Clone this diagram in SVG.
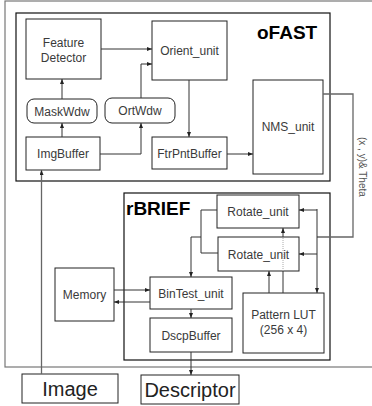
<svg xmlns="http://www.w3.org/2000/svg" width="372" height="406" viewBox="0 0 372 406">
<style>
.box{fill:#fff;stroke:#222;stroke-width:1}
.cont{fill:none;stroke:#111;stroke-width:1.2}
.t{font-family:"Liberation Sans",Arial,sans-serif;font-size:12px;fill:#3a3a3a;text-anchor:middle}
.big{font-family:"Liberation Sans",Arial,sans-serif;font-size:20px;fill:#222;text-anchor:middle}
.lbl{font-family:"Liberation Sans",Arial,sans-serif;font-size:19px;font-weight:bold;fill:#000}
.c{fill:none;stroke:#333;stroke-width:1}
.g{fill:none;stroke:#666;stroke-width:1.3}
</style>
<defs>
<marker id="a" markerWidth="5" markerHeight="4" refX="5" refY="2" orient="auto" markerUnits="userSpaceOnUse">
<path d="M0,0 L5,2 L0,4 z" fill="#222"/>
</marker>
</defs>
<rect x="0" y="0" width="372" height="406" fill="#fff"/>
<g id="containers">
<rect x="5" y="1" width="380" height="366" fill="none" stroke="#777" stroke-width="1.2"/>
<rect id="oFAST" x="16" y="13" width="314" height="168" class="cont"/>
<text x="257" y="39" class="lbl">oFAST</text>
<rect id="rBRIEF" x="124" y="193" width="206" height="167" class="cont"/>
<text x="126" y="215" class="lbl">rBRIEF</text>
</g>
<g id="n_fd"><rect x="26" y="19" width="75" height="60" class="box"/><text x="63.5" y="47" class="t">Feature</text><text x="63.5" y="62" class="t">Detector</text></g>
<g id="n_orient"><rect x="152" y="21" width="75" height="59" class="box"/><text x="189.5" y="55" class="t">Orient_unit</text></g>
<g id="n_mask"><rect x="27" y="99" width="70" height="24" rx="7" class="box"/><text x="62" y="115.5" class="t">MaskWdw</text></g>
<g id="n_ort"><rect x="105" y="98" width="70" height="25" rx="7" class="box"/><text x="140" y="115" class="t">OrtWdw</text></g>
<g id="n_img"><rect x="26" y="137" width="74" height="33" class="box"/><text x="63" y="158" class="t">ImgBuffer</text></g>
<g id="n_ftr"><rect x="152" y="137" width="75" height="32" class="box"/><text x="189.5" y="157.5" class="t">FtrPntBuffer</text></g>
<g id="n_nms"><rect x="253" y="80" width="70" height="94" class="box"/><text x="288" y="131" class="t">NMS_unit</text></g>
<g id="n_rot1"><rect x="217" y="195" width="82" height="33" class="box"/><text x="258" y="216" class="t">Rotate_unit</text></g>
<g id="n_rot2"><rect x="218" y="237" width="81" height="34" class="box"/><text x="258.5" y="258.5" class="t">Rotate_unit</text></g>
<g id="n_lut"><rect x="243" y="293" width="81" height="60" class="box"/><text x="283.5" y="319" class="t">Pattern LUT</text><text x="283.5" y="334" class="t">(256 x 4)</text></g>
<g id="n_bin"><rect x="150" y="277" width="82" height="32" class="box"/><text x="191" y="297.5" class="t">BinTest_unit</text></g>
<g id="n_dscp"><rect x="150" y="318" width="82" height="34" class="box"/><text x="191" y="339.5" class="t">DscpBuffer</text></g>
<g id="n_mem"><rect x="55" y="268" width="59" height="53" class="box"/><text x="84.5" y="298.5" class="t">Memory</text></g>
<g id="n_image"><rect x="22" y="374" width="96" height="29" class="box"/><text x="70" y="396" class="big">Image</text></g>
<g id="n_desc"><rect x="141" y="375" width="98" height="29" class="box"/><text x="190" y="397" class="big">Descriptor</text></g>
<g id="connectors">
<path d="M101,49 H152" class="c" marker-end="url(#a)"/>
<path d="M141,98 V64 H152" class="c" marker-end="url(#a)"/>
<path d="M62,99 V79" class="c" marker-end="url(#a)"/>
<path d="M62,137 V123" class="c" marker-end="url(#a)"/>
<path d="M100,154 H141 V123" class="c" marker-end="url(#a)"/>
<path d="M189,80 V137" class="c" marker-end="url(#a)"/>
<path d="M227,154 H253" class="c" marker-end="url(#a)"/>
<path d="M41.5,374 V170" class="g" marker-end="url(#a)"/>
<path d="M323,94 H353 V237 H317" class="g"/>
<path d="M317,209 V293" class="c" marker-end="url(#a)"/>
<path d="M317,210 H299" class="c" marker-end="url(#a)"/>
<path d="M317,254 H299" class="c" marker-end="url(#a)"/>
<path d="M269,293 V271" class="c" marker-end="url(#a)"/>
<path d="M283,293 V271" class="c"/>
<path d="M283,271 V237" fill="none" stroke="#aaa" stroke-width="1" stroke-dasharray="1,1"/>
<path d="M283,237 V228" class="c" marker-end="url(#a)"/>
<path d="M217,210 H201 V253 H218" class="c"/>
<path d="M201,237 H191 V277" class="c" marker-end="url(#a)"/>
<path d="M191,309 V318" class="c" marker-end="url(#a)"/>
<path d="M191,352 V375" class="c" marker-end="url(#a)"/>
<path d="M114,290 H150" class="c" marker-end="url(#a)"/>
<path d="M150,302 H114" class="c" marker-end="url(#a)"/>
<text transform="translate(358.5,137) rotate(90)" font-family="Liberation Sans, Arial, sans-serif" font-size="10" fill="#555">(x , y)&amp; Theta</text>
</g>
</svg>
